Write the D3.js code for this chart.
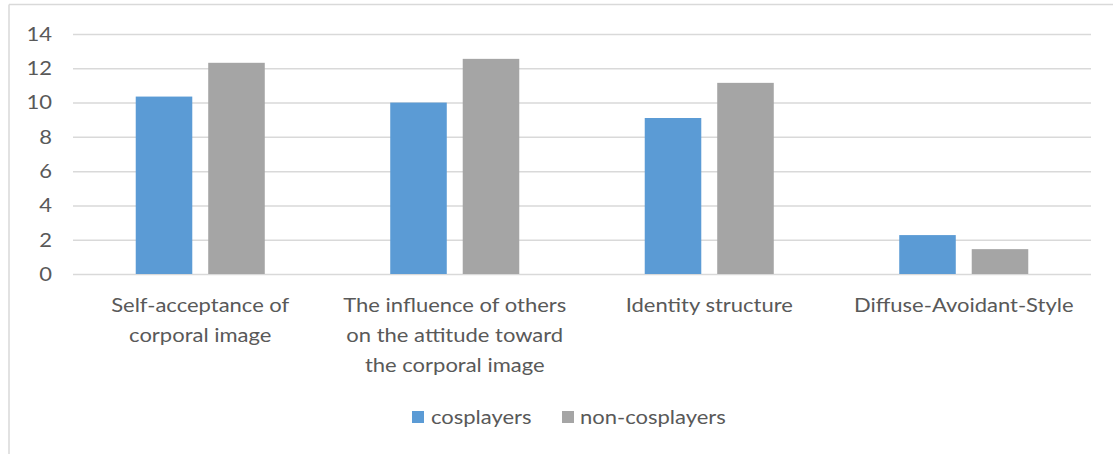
<!DOCTYPE html>
<html>
<head>
<meta charset="utf-8">
<script src="https://cdn.jsdelivr.net/npm/d3@7"></script>
<style>
  html, body { margin: 0; padding: 0; background: #fff; }
  svg { display: block; }
  text { font-family: Lato, "Open Sans", sans-serif; fill: #595959; }
</style>
</head>
<body>
<svg id="chart" width="1113" height="454"></svg>
<script>
// Category labels (each entry is a list of wrapped lines)
const categories = [
  ["Self-acceptance of", "corporal image"],
  ["The influence of others", "on the attitude toward", "the corporal image"],
  ["Identity structure"],
  ["Diffuse-Avoidant-Style"]
];
const seriesNames = ["cosplayers", "non-cosplayers"];
const cosplayers = [10.35, 10.0, 9.1, 2.27];
const nonCosplayers = [12.32, 12.55, 11.15, 1.45];
const yTicks = [0, 2, 4, 6, 8, 10, 12, 14];

const colors = { "cosplayers": "#5b9bd5", "non-cosplayers": "#a5a5a5" };

const FONT_SIZE = 20;
const STRETCH = 1.1; // wide text rendering

const svg = d3.select("#chart");
const W = 1113, H = 454;
const margin = { left: 73, right: 22, top: 34 };
const plotBottom = 274;

// Outer chart frame (top and left edges only are visible)
svg.append("line").attr("x1", 9).attr("x2", W).attr("y1", 4.5).attr("y2", 4.5)
  .attr("stroke", "#d9d9d9").attr("stroke-width", 1.5);
svg.append("line").attr("x1", 9).attr("x2", 9).attr("y1", 4.5).attr("y2", H)
  .attr("stroke", "#d9d9d9").attr("stroke-width", 1.5);

const x0 = d3.scaleBand()
  .domain(d3.range(categories.length))
  .range([margin.left, W - margin.right])
  .padding(0);

const bw = x0.bandwidth();
const x1 = d3.scaleBand()
  .domain(seriesNames)
  .range([bw * 0.2465, bw * 0.7535])
  .paddingInner(0.22)
  .paddingOuter(0);

const y = d3.scaleLinear().domain([0, 14]).range([plotBottom, margin.top]);

// Horizontal gridlines and value labels
const yAxis = d3.axisLeft(y).tickValues(yTicks)
  .tickSize(-(W - margin.right - margin.left)).tickPadding(21);
const gy = svg.append("g").attr("transform", `translate(${margin.left},0)`).call(yAxis);
gy.select(".domain").remove();
gy.selectAll(".tick line").attr("stroke", "#d9d9d9").attr("stroke-width", 1.5);
gy.selectAll(".tick text")
  .attr("font-size", FONT_SIZE)
  .attr("font-family", "Lato, 'Open Sans', sans-serif")
  .style("fill", "#595959")
  .attr("transform", function () {
    const tx = +d3.select(this).attr("x");
    return `translate(${tx},0) scale(${STRETCH},1) translate(${-tx},0)`;
  });

// Bars
const data = categories.map((c, i) => ({
  i,
  values: [
    { key: "cosplayers", value: cosplayers[i] },
    { key: "non-cosplayers", value: nonCosplayers[i] }
  ]
}));

const groups = svg.append("g").selectAll("g").data(data).join("g")
  .attr("transform", d => `translate(${x0(d.i)},0)`);

groups.selectAll("rect").data(d => d.values).join("rect")
  .attr("x", d => x1(d.key))
  .attr("width", x1.bandwidth())
  .attr("y", d => y(d.value))
  .attr("height", d => y(0) - y(d.value))
  .attr("fill", d => colors[d.key]);

// Category labels
const xAxis = svg.append("g");
categories.forEach((lines, i) => {
  const cx = x0(i) + bw / 2;
  const t = xAxis.append("g")
    .attr("transform", `translate(${cx},312) scale(${STRETCH},1)`)
    .append("text")
    .attr("text-anchor", "middle")
    .attr("font-size", FONT_SIZE);
  lines.forEach((ln, j) => {
    t.append("tspan").attr("x", 0).attr("dy", j === 0 ? 0 : 30).text(ln);
  });
});

// Legend
const legendItems = [
  { key: "cosplayers", sq: 412, tx: 431 },
  { key: "non-cosplayers", sq: 562, tx: 580 }
];
const legend = svg.append("g");
legendItems.forEach(it => {
  legend.append("rect").attr("x", it.sq).attr("y", 411).attr("width", 12).attr("height", 12)
    .attr("fill", colors[it.key]);
  legend.append("g").attr("transform", `translate(${it.tx},424) scale(${STRETCH},1)`)
    .append("text").attr("font-size", FONT_SIZE).text(it.key);
});
</script>
</body>
</html>
